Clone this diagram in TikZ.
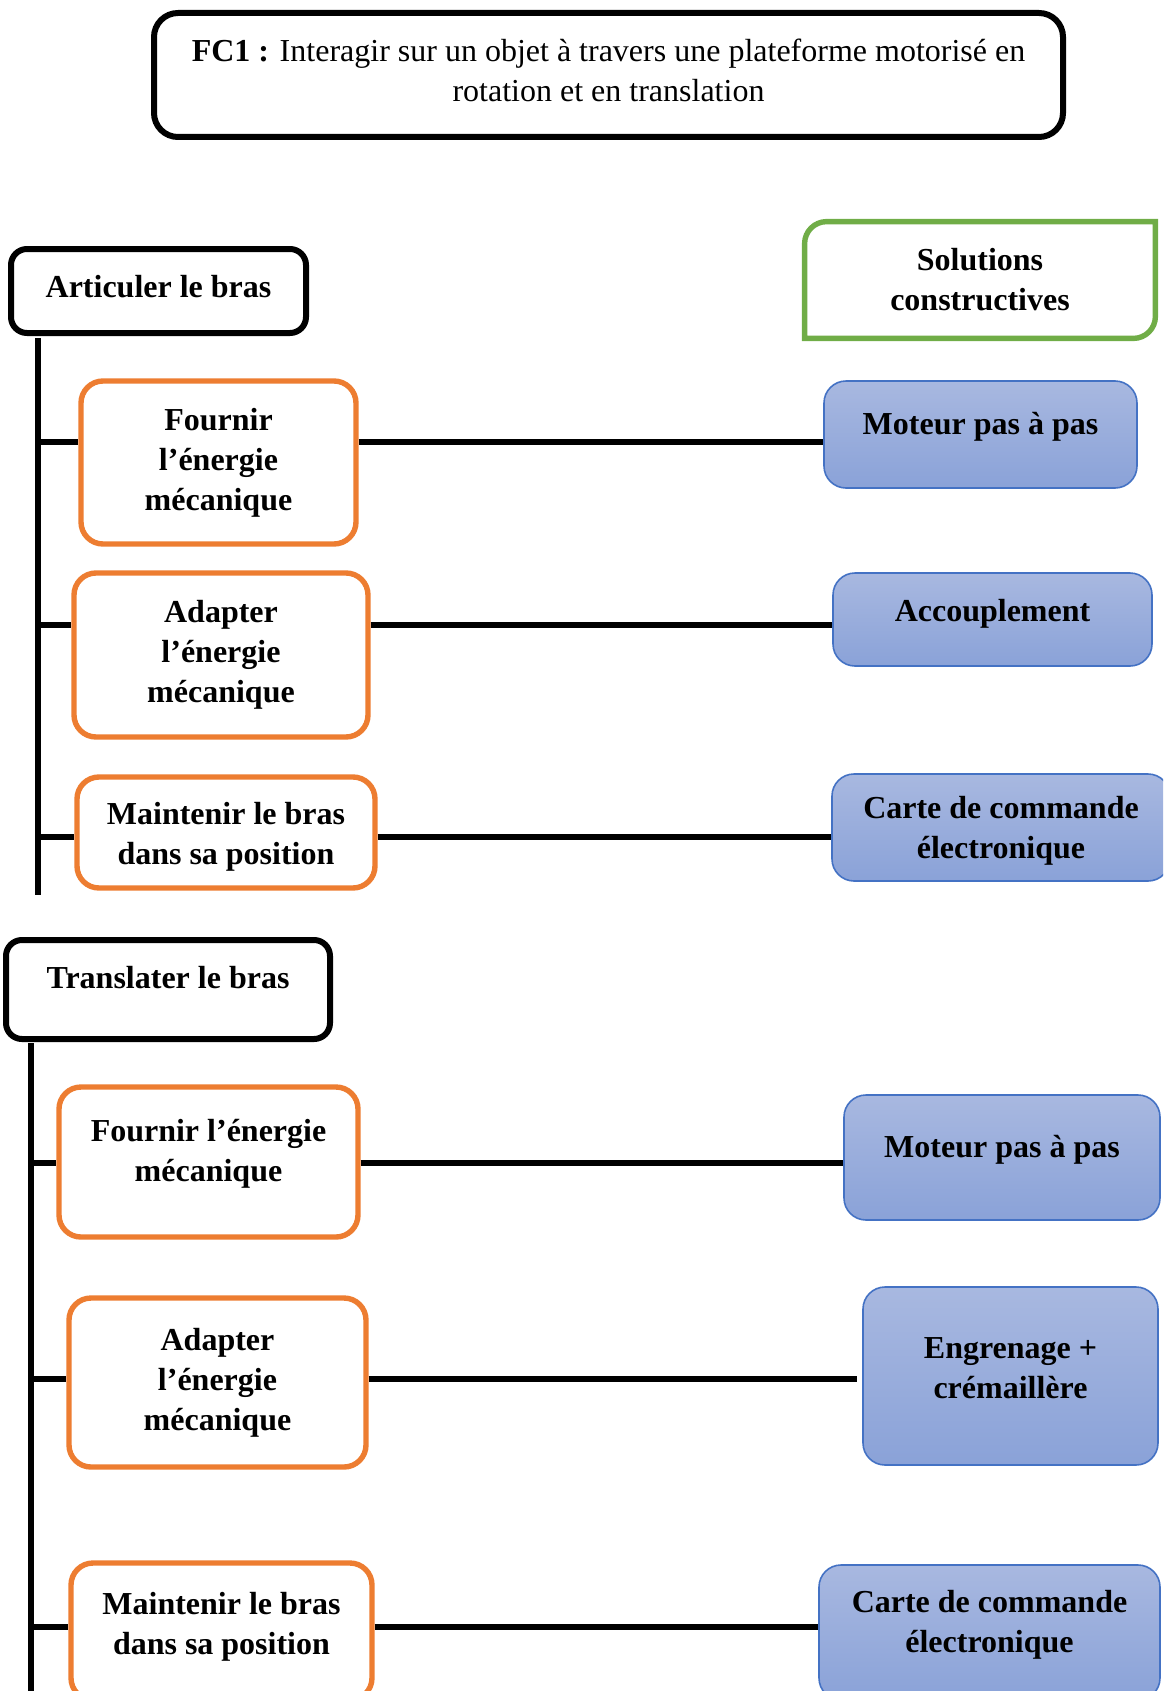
\documentclass[tikz,border=0pt]{standalone}
\usepackage{fontspec}
\setmainfont{Liberation Serif}
\definecolor{orangeline}{HTML}{ED7D31}
\definecolor{greenline}{HTML}{70AD47}
\definecolor{blueline}{HTML}{4472C4}
\definecolor{bluetop}{HTML}{A8B8E0}
\definecolor{bluebot}{HTML}{8AA2D8}

\begin{document}
\begin{tikzpicture}[x=0.5pt,y=-0.5pt,
	texte/.style={font=\fontsize{16}{20}\selectfont\bfseries, align=center, inner sep=0pt},
	titre/.style={draw, line width=3pt, rounded corners=12pt, align=center, inner sep=0pt,
		font=\fontsize{16}{20}\selectfont},
	groupe/.style={texte, draw, line width=3pt, rounded corners=8pt},
	fonction/.style={texte, draw=orangeline, line width=2.7pt, rounded corners=11pt},
	solution/.style={texte, draw=blueline, line width=0.8pt, rounded corners=11pt,
		top color=bluetop, bottom color=bluebot},
	decal/.style 2 args={text height=#1, text depth=#2},
	liaison/.style={line width=2.8pt}]
	\useasboundingbox (0,0) rectangle (1163,1691);
	\clip (0,0) rectangle (1163,1691);

	\draw (608.5,75) node (fc1) [titre, decal={31pt}{4.6pt}, minimum width=454.5pt, minimum height=62pt]
		{\textbf{FC1 :} Interagir sur un objet à travers une plateforme motorisé en\\rotation et en translation};

	\draw (158.5,291) node (art) [groupe, decal={10.9pt}{4.4pt}, minimum width=147.5pt, minimum height=42pt] {Articuler le bras};
	\draw (980,280) node (sol) [texte, minimum width=175pt, minimum height=58pt] {Solutions\\constructives};
	\draw[greenline, line width=2.7pt] (sol.south west) -- ([yshift=-11pt]sol.north west)
		arc[start angle=180, end angle=90, radius=11pt] -- (sol.north east)
		-- ([yshift=11pt]sol.south east) arc[start angle=0, end angle=-90, radius=11pt] -- cycle;

	\draw (218.5,462.5) node (fo1) [fonction, minimum width=137.5pt, minimum height=81.5pt] {Fournir\\l’énergie\\mécanique};
	\draw (980.5,434.5) node (mo1) [solution, decal={11.2pt}{11.1pt}, minimum width=156.5pt, minimum height=53.5pt] {Moteur pas à pas};
	\draw (221,655) node (ad1) [fonction, minimum width=147pt, minimum height=82pt] {Adapter\\l’énergie\\mécanique};
	\draw (992.5,619.5) node (ac) [solution, decal={11pt}{8.9pt}, minimum width=159.5pt, minimum height=46.5pt] {Accouplement};
	\draw (226,832.5) node (ma1) [fonction, decal={31.9pt}{0pt}, minimum width=149pt, minimum height=55.5pt] {Maintenir le bras\\dans sa position};
	\draw (1001,827.5) node (ca1) [solution, decal={30.7pt}{0pt}, minimum width=169pt, minimum height=53.5pt] {Carte de commande\\électronique};

	\draw (168,989.5) node (tr) [groupe, decal={10.9pt}{11.8pt}, minimum width=162pt, minimum height=49.5pt] {Translater le bras};
	\draw (208.5,1162) node (fo2) [fonction, decal={31pt}{11.1pt}, minimum width=149.5pt, minimum height=75pt] {Fournir l’énergie\\mécanique};
	\draw (1002,1157.5) node (mo2) [solution, decal={11.2pt}{11.1pt}, minimum width=158pt, minimum height=62.5pt] {Moteur pas à pas};
	\draw (217.5,1382.5) node (ad2) [fonction, minimum width=148.5pt, minimum height=84.5pt] {Adapter\\l’énergie\\mécanique};
	\draw (1010.5,1376) node (en) [solution, decal={31pt}{8.6pt}, minimum width=147.5pt, minimum height=89pt] {Engrenage +\\crémaillère};
	\draw (221.5,1631.5) node (ma2) [fonction, decal={31pt}{7.9pt}, minimum width=150.5pt, minimum height=68.5pt] {Maintenir le bras\\dans sa position};
	\draw (989.5,1632.5) node (ca2) [solution, decal={31pt}{11.1pt}, minimum width=170.5pt, minimum height=67.5pt] {Carte de commande\\électronique};

	\coordinate (t1) at (38,338);
	\coordinate (b1) at (38,895);
	\coordinate (t2) at (31,1043);
	\coordinate (b2) at (31,1700);
	\draw[liaison] (t1) -- (b1);
	\draw[liaison] (t2) -- (b2);

	\coordinate (s1) at (38,442);
	\coordinate (s2) at (38,625);
	\coordinate (s3) at (38,837);
	\coordinate (s4) at (31,1163);
	\coordinate (s5) at (31,1379);
	\coordinate (s6) at (31,1627);

	\draw[liaison] (s1) -- (s1 -| fo1.west);
	\draw[liaison] (s1 -| fo1.east) -- (s1 -| mo1.west);
	\draw[liaison] (s2) -- (s2 -| ad1.west);
	\draw[liaison] (s2 -| ad1.east) -- (s2 -| ac.west);
	\draw[liaison] (s3) -- (s3 -| ma1.west);
	\draw[liaison] (s3 -| ma1.east) -- (s3 -| ca1.west);
	\draw[liaison] (s4) -- (s4 -| fo2.west);
	\draw[liaison] (s4 -| fo2.east) -- (s4 -| mo2.west);
	\draw[liaison] (s5) -- (s5 -| ad2.west);
	\draw[liaison] (s5 -| ad2.east) -- ([xshift=-2.5pt]s5 -| en.west);
	\draw[liaison] (s6) -- (s6 -| ma2.west);
	\draw[liaison] (s6 -| ma2.east) -- (s6 -| ca2.west);
\end{tikzpicture}
\end{document}
